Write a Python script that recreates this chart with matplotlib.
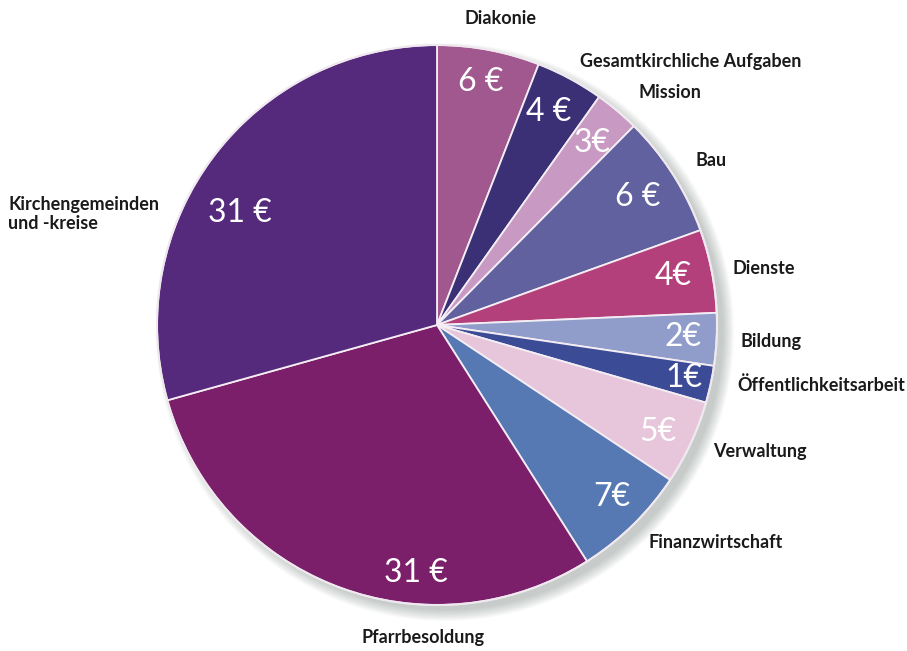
import numpy as np
import matplotlib.pyplot as plt
from matplotlib.patches import Circle

plt.rcParams['font.family'] = ['Lato', 'DejaVu Sans']

# data, clockwise from 12 o'clock
categories = ["Diakonie", "Gesamtkirchliche Aufgaben", "Mission", "Bau", "Dienste",
              "Bildung", "Öffentlichkeitsarbeit", "Verwaltung", "Finanzwirtschaft",
              "Pfarrbesoldung", "Kirchengemeinden\nund -kreise"]
values = [6, 4, 3, 6, 4, 2, 1, 5, 7, 31, 31]
# slice sizes as drawn in the picture (degrees)
shares = [21.3, 14.1, 9.3, 25.5, 17.3, 10.9, 7.7, 17.5, 24.0, 106.8, 105.6]
wide_space = [True, True, False, True, False, False, False, False, False, True, True]
value_labels = [f"{v} €" if sp else f"{v}€" for v, sp in zip(values, wide_space)]

colors = ["#a0588f", "#3b2f76", "#c89ac3", "#60619e", "#b3407b", "#909dcb",
          "#3c4b95", "#e7c6db", "#5678b3", "#7b1f6a", "#55297b"]

# layout (pixel-like coords, y up)
W, H = 907, 651
cx, cy, R = 437, 651 - 325, 280
value_r = [0.88, 0.86, 0.855, 0.85, 0.86, 0.88, 0.90, 0.875, 0.875, 0.89, 0.81]
value_dang = [0.5, 0.8, -0.3, 0, 0.5, 0.2, 0.2, -1.0, 1.1, 16.2, 7.6]
outer_pos = [(500, 18, "center"), (691, 62, "center"), (670, 93, "center"),
             (711, 160, "center"), (733, 268, "left"), (740, 342, "left"),
             (737, 385, "left"), (713, 452, "left"), (648, 543, "left"),
             (423, 637, "center"), (8, 214, "left")]

fig = plt.figure(figsize=(W / 100, H / 100), dpi=100)
ax = fig.add_axes([0, 0, 1, 1])

# soft drop shadow, mostly to the lower right
for k in range(12):
    ax.add_patch(Circle((cx + 8, cy - 7), R - 2 + k * 1.0, color="#5d6f66",
                        alpha=0.03, lw=0, zorder=0))

wedges, _ = ax.pie(shares, colors=colors, startangle=90, counterclock=False,
                   center=(cx, cy), radius=R, frame=True,
                   wedgeprops=dict(edgecolor="#f4eef4", linewidth=1.3))
ax.set_xlim(0, W)
ax.set_ylim(0, H)
ax.set_aspect("equal")
ax.axis("off")
ax.add_patch(Circle((cx, cy), R, fill=False, ec="#efe8ef", lw=1.5, zorder=3))

for i, w in enumerate(wedges):
    ang = np.deg2rad((w.theta1 + w.theta2) / 2 + value_dang[i])
    r = R * value_r[i]
    ax.text(cx + r * np.cos(ang), cy + r * np.sin(ang), value_labels[i],
            color="white", fontsize=23, ha="center", va="center", zorder=4)

for name, (x, y, ha) in zip(categories, outer_pos):
    ax.text(x, H - y, name, fontsize=13, fontweight="bold", color="#1a1a1a",
            ha=ha, va="center", linespacing=1.2)

fig.savefig("out.png", dpi=100)
